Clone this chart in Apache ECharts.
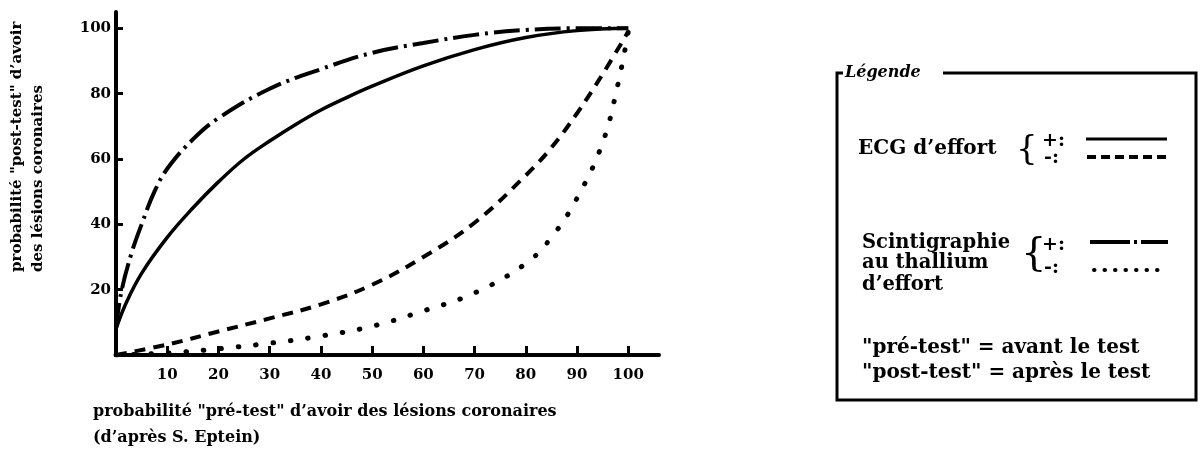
<!DOCTYPE html>
<html>
<head>
<meta charset="utf-8">
<script src="https://cdn.jsdelivr.net/npm/echarts@6/dist/echarts.min.js"></script>
<style>
  html, body { margin: 0; padding: 0; background: #fff; }
  #chart { width: 1200px; height: 457px; }
</style>
</head>
<body>
<div id="chart"></div>
<script>
// probabilité "pré-test" (x, %) -> probabilité "post-test" (y, %)
const ecgPos = [[0, 8], [2, 16], [5, 25], [10, 36], [15, 45], [20, 53], [25, 60], [30, 65.5],
  [35, 70.5], [40, 75], [45, 78.8], [50, 82.3], [60, 88.5], [70, 93.5], [80, 97.2], [90, 99.3], [100, 100]];
const ecgNeg = [[0, 0], [10, 3.2], [20, 7.2], [30, 11.2], [40, 15.5], [50, 21.5], [60, 30],
  [70, 40.5], [80, 55], [85, 63.5], [90, 74], [95, 86], [100, 99]];
const thalPos = [[0, 8], [1, 19], [3, 31], [5, 40], [7.5, 50], [10, 57], [15, 66], [20, 72.5],
  [30, 81.5], [40, 87.5], [50, 92.5], [60, 95.5], [70, 98], [80, 99.5], [90, 100], [100, 100]];
const thalNeg = [[0, 0], [10, 0.6], [20, 1.9], [30, 3.6], [40, 5.8], [50, 8.8], [60, 13.5],
  [70, 19], [80, 28], [85, 36], [90, 48], [95, 65], [98, 83], [100, 99]];

const xTicks = [10, 20, 30, 40, 50, 60, 70, 80, 90, 100];
const yTicks = [20, 40, 60, 80, 100];

const FONT = 'DejaVu Serif';
const INK = '#000';

const chart = echarts.init(document.getElementById('chart'));

function curve(name, data, width, type, cap) {
  return {
    name,
    type: 'line',
    data,
    smooth: 0.4,
    showSymbol: false,
    silent: true,
    lineStyle: { color: INK, width, type, cap: cap || 'butt' },
  };
}

function txt(x, y, text, size, extra) {
  return {
    type: 'text',
    x, y,
    style: Object.assign({
      text,
      fill: INK,
      font: `bold ${size}px "${FONT}"`,
      textAlign: 'left',
      textVerticalAlign: 'middle',
    }, extra || {}),
  };
}

function sample(y, x1, x2, dash, width, cap) {
  return {
    type: 'line',
    shape: { x1, y1: y, x2, y2: y },
    style: { stroke: INK, lineWidth: width, lineDash: dash, lineCap: cap || 'butt' },
  };
}

const option = {
  backgroundColor: '#fff',
  animation: false,
  grid: { left: 116, right: 541, top: 12, bottom: 102, outerBoundsMode: 'none' },
  xAxis: {
    type: 'value',
    min: 0,
    max: 106,
    axisLine: { lineStyle: { color: INK, width: 4 } },
    axisTick: { customValues: xTicks, inside: true, length: 9, lineStyle: { color: INK, width: 3 } },
    axisLabel: { customValues: xTicks, margin: 13, color: INK, fontFamily: FONT, fontWeight: 'bold', fontSize: 15 },
    splitLine: { show: false },
  },
  yAxis: {
    type: 'value',
    min: 0,
    max: 105,
    axisLine: { show: true, lineStyle: { color: INK, width: 4 } },
    axisTick: { show: true, customValues: yTicks, inside: true, length: 7, lineStyle: { color: INK, width: 3 } },
    axisLabel: { customValues: yTicks, margin: 5, color: INK, fontFamily: FONT, fontWeight: 'bold', fontSize: 15 },
    splitLine: { show: false },
  },
  series: [
    curve('ECG d’effort +', ecgPos, 3.5, 'solid'),
    curve('ECG d’effort -', ecgNeg, 4, [11, 8]),
    curve('Scintigraphie au thallium d’effort +', thalPos, 4, [26, 6, 3, 6]),
    curve('Scintigraphie au thallium d’effort -', thalNeg, 5, [0.5, 17], 'round'),
  ],
  graphic: [
    // titre de l'axe vertical (se lit de bas en haut)
    txt(17, 272, 'probabilité "post-test" d’avoir', 15, {}),
    txt(38, 272, 'des lésions coronaires', 15, {}),
    // titre de l'axe horizontal
    txt(93, 412, 'probabilité "pré-test" d’avoir des lésions coronaires', 16),
    txt(93, 438, '(d’après S. Eptein)', 16),
    // cadre de la légende
    {
      type: 'polyline',
      shape: { points: [[943, 73], [1196, 73], [1196, 400], [837, 400], [837, 73], [843, 73]] },
      style: { stroke: INK, lineWidth: 3, fill: null },
    },
    txt(845, 73, 'Légende', 16, { font: `italic bold 16px "${FONT}"` }),
    // ECG d'effort
    txt(858, 149, 'ECG d’effort', 20),
    txt(1016, 150, '{', 34, { font: `normal 34px "${FONT}"` }),
    txt(1042, 141, '+:', 19),
    txt(1044, 158, '-:', 19),
    sample(139, 1086, 1167, null, 3),
    sample(157, 1087, 1167, [9, 5], 4),
    // Scintigraphie au thallium d'effort
    txt(862, 243, 'Scintigraphie', 19.5),
    txt(862, 263, 'au thallium', 19.5),
    txt(862, 285, 'd’effort', 19.5),
    txt(1021, 255, '{', 40, { font: `normal 40px "${FONT}"` }),
    txt(1042, 245, '+:', 19),
    txt(1044, 268, '-:', 19),
    sample(242, 1090, 1168, [40, 4, 3, 4], 4),
    sample(270, 1094, 1167, [0.5, 10], 4, 'round'),
    // définitions
    txt(862, 348, '"pré-test" = avant le test', 20),
    txt(862, 373, '"post-test" = après le test', 20),
  ],
};

option.graphic[0].rotation = Math.PI / 2;
option.graphic[1].rotation = Math.PI / 2;

chart.setOption(option);
</script>
</body>
</html>
